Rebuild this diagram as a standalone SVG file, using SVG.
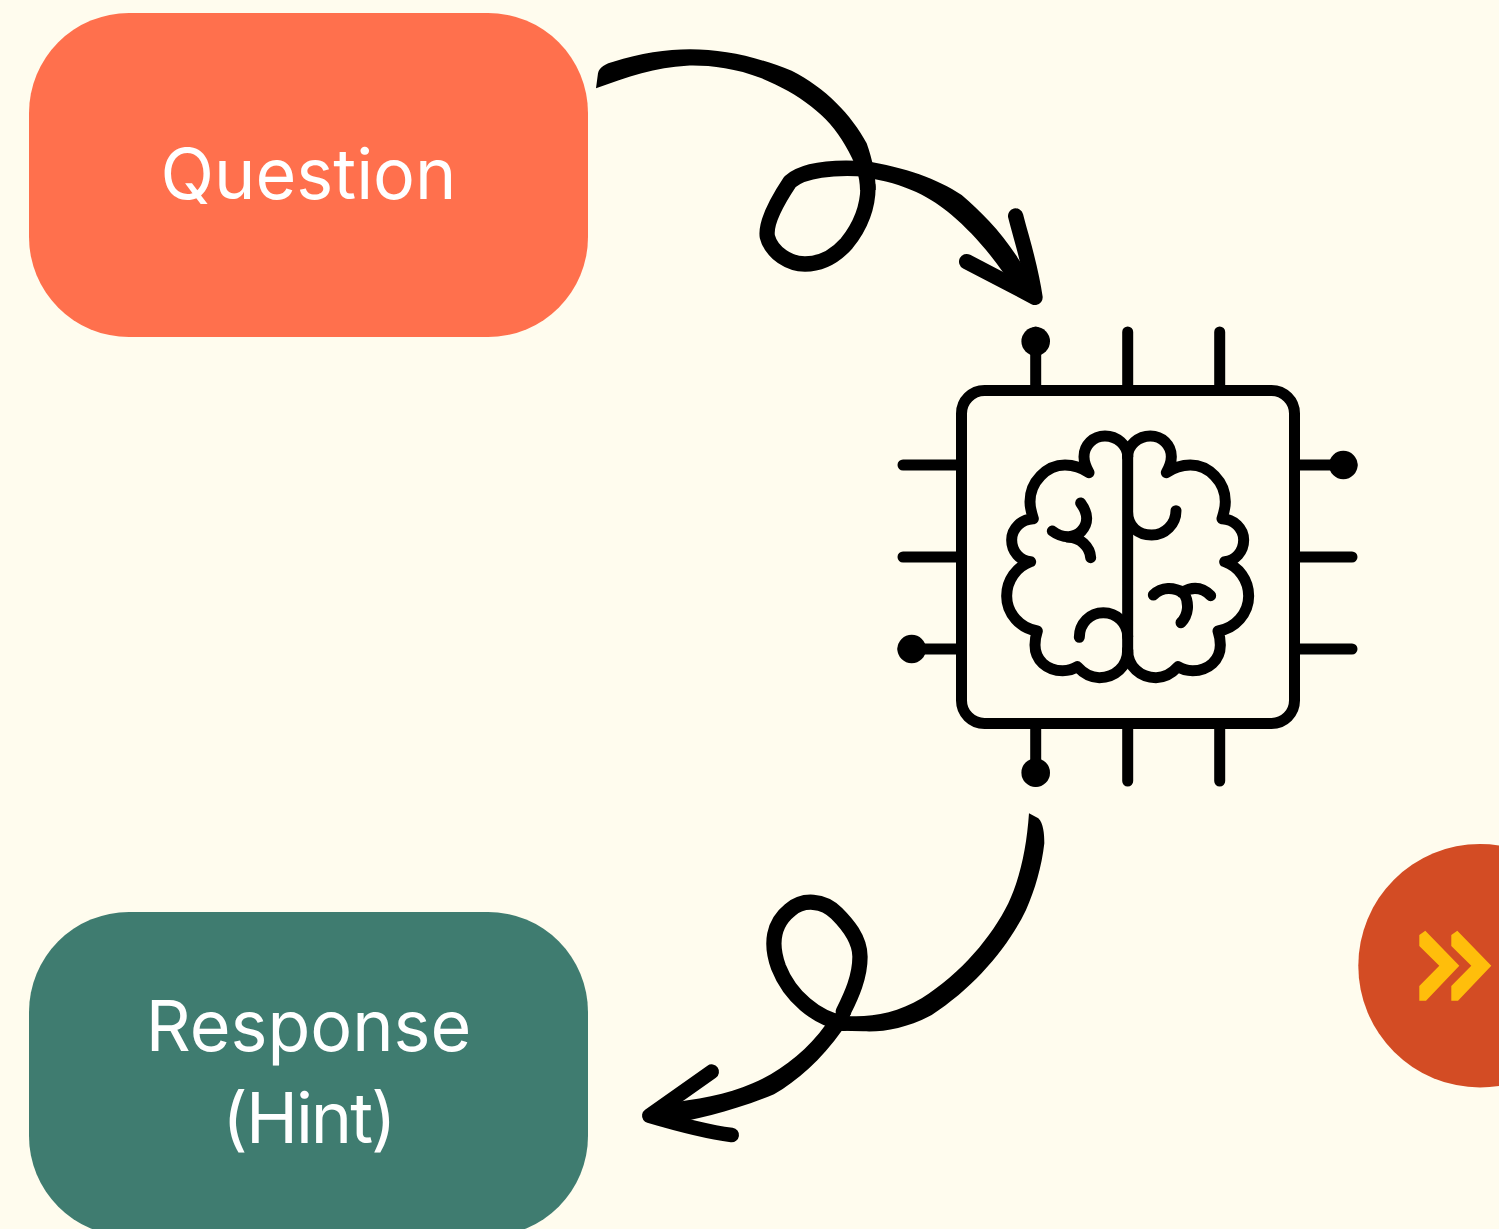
<svg xmlns="http://www.w3.org/2000/svg" width="1499" height="1229" viewBox="0 0 1499 1229">
<style>
.lbl{font-family:"Inter","Liberation Sans",sans-serif;font-weight:400;font-size:70px;fill:#fff;text-anchor:middle}
.ln{fill:none;stroke:#000;stroke-linecap:round;stroke-linejoin:round}
.chip{stroke-width:11}
.brain{stroke-width:33}
.dot{fill:#000}
.chev{fill:#ffbe0b}
</style>
<rect width="1499" height="1229" fill="#fffcee"/>
<g id="question"><rect x="29" y="13" width="559" height="324" rx="100" fill="#ff704d"/><text class="lbl" x="308.500" y="198.500">Question</text></g>
<g id="response"><rect x="29" y="912" width="559" height="324" rx="100" fill="#3f7c70"/><text class="lbl" x="308.500" y="1051">Response</text><text class="lbl" x="308.500" y="1142.500" letter-spacing="-2">(Hint)</text></g>
<g id="ai-chip">
<rect class="ln chip" x="961.500" y="390.500" width="333" height="333" rx="23"/>
<path class="ln chip" d="M1035.700 332V388M1127.700 332V388M1219.700 332V388M1035.700 726V781M1127.700 726V781M1219.700 726V781M903 465H959M903 557H959M903 649H959M1297 465H1352M1297 557H1352M1297 649H1352"/>
<circle class="dot" cx="1035.700" cy="341.300" r="14.300"/><circle class="dot" cx="1035.700" cy="772.700" r="14.300"/><circle class="dot" cx="911.700" cy="649" r="14.300"/><circle class="dot" cx="1343.300" cy="465" r="14.300"/>
<g transform="translate(890 320) scale(.33333)">
<path class="ln brain" d="M713 410C713 375 680 348 645 348C610 348 582 375 582 410C582 430 590 445 597 458C575 443 550 435 525 435C470 435 420 485 420 545C420 565 425 580 430 596C395 597 365 625 365 660C365 695 390 722 422 725C380 740 350 780 350 828C350 880 390 925 442 933C438 945 435 960 435 975C435 1020 470 1052 518 1052C535 1052 550 1048 562 1040C580 1060 600 1073 628 1073C675 1073 713 1040 713 990M568 952C568 910 600 878 640 878C680 878 713 910 713 950M572 549C580 560 590 575 590 595C590 625 565 650 535 650C515 650 500 643 487 633M535 652C570 652 600 680 602 713"/>
<path class="ln brain" transform="matrix(-1 0 0 1 1426 0)" d="M713 410C713 375 680 348 645 348C610 348 582 375 582 410C582 430 590 445 597 458C575 443 550 435 525 435C470 435 420 485 420 545C420 565 425 580 430 596C395 597 365 625 365 660C365 695 390 722 422 725C380 740 350 780 350 828C350 880 390 925 442 933C438 945 435 960 435 975C435 1020 470 1052 518 1052C535 1052 550 1048 562 1040C580 1060 600 1073 628 1073C675 1073 713 1040 713 990"/>
<path class="ln brain" d="M713 400V1000M713 575C713 620 745 645 785 645C825 645 858 612 858 572M790 825C815 800 850 800 885 820M962 827C935 800 905 800 875 818M880 815C900 850 895 885 873 908"/>
</g>
</g>
<g id="next-button"><circle cx="1480" cy="965.700" r="121.700" fill="#d34c24"/>
<path class="chev" d="M1419.300 935L1425.300 930.700L1459.300 965.700L1426 1000.700H1419.300V986L1439.300 965.700L1419.300 946Z"/>
<path class="chev" d="M1451.300 935L1457.300 930.700L1491.300 965.700L1458 1000.700H1451.300V986L1471.300 965.700L1451.300 946Z"/></g>
<g id="connectors">
<g transform="translate(590 40) scale(.33333)">
<path d="M18 145L24 100C28 80 50 70 70 65C150 40 230 28 300 28C400 28 500 50 605 92C705 142 785 225 830 310C848 360 857 410 857 450L810 450C810 410 798 370 765 315C715 225 625 160 515 115C430 82 350 75 290 77C200 82 110 110 18 145Z"/>
<path class="ln" stroke-width="46" d="M834 440C834 500 810 560 770 610C730 655 690 672 645 672C600 672 545 640 532 590C525 545 570 470 600 425C640 390 730 380 830 387"/>
<path d="M820 362C950 383 1040 415 1115 465C1195 535 1265 605 1345 760L1285 765C1215 655 1155 585 1085 525C1025 475 950 430 820 412Z"/>
<path class="ln" stroke-width="46" d="M1277 528C1295 600 1320 670 1335 772L1130 665"/>
</g>
<g transform="translate(630 810) scale(.33333)">
<path d="M1197 10L1225 25C1240 40 1243 70 1243 100C1235 170 1215 240 1188 300C1135 410 1035 530 905 615C830 655 760 667 700 664L630 662L650 618C720 623 800 610 875 565C995 490 1085 380 1135 280C1172 200 1190 110 1197 10Z"/>
<path class="ln" stroke-width="46" d="M640 640C560 625 480 560 445 470C420 400 430 340 480 300C520 265 580 270 620 310C650 340 690 385 690 440C690 500 665 555 640 605"/>
<path d="M618 610L588 643C528 726 450 785 368 820C290 855 200 868 100 882L100 947C200 928 312 903 432 853C502 812 572 752 637 660L664 610Z"/>
<path class="ln" stroke-width="44" d="M245 785L58 917C170 950 230 965 305 975"/>
</g>
</g>
</svg>
